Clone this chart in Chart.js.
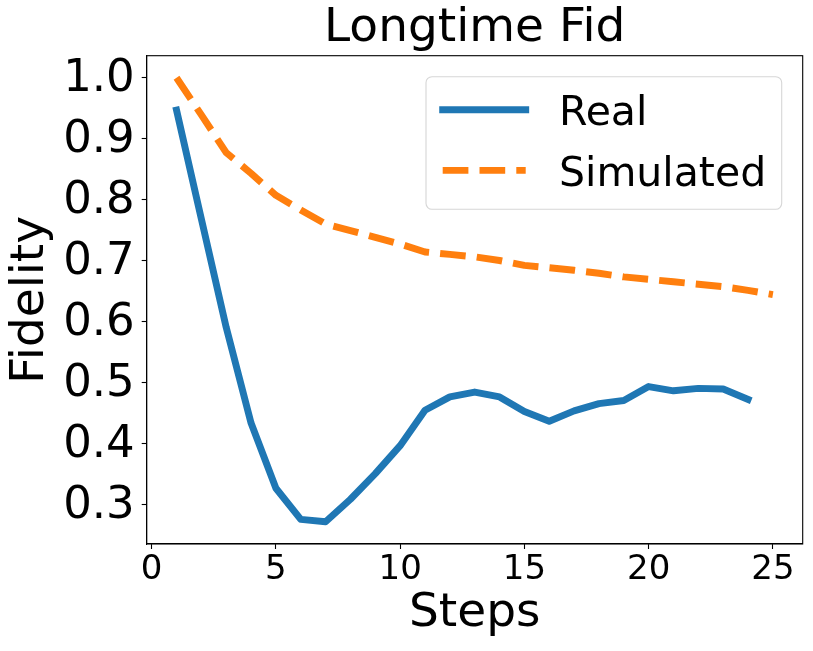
<!DOCTYPE html>
<html>
<head>
<meta charset="utf-8">
<script src="https://cdn.jsdelivr.net/npm/chart.js@4.4.0/dist/chart.umd.min.js"></script>
<style>
html,body{margin:0;padding:0;background:#fff;overflow:hidden}
canvas{display:block}
</style>
</head>
<body>
<canvas id="c" width="813" height="651"></canvas>
<script>
// ---- data ----
const realSteps = [1,2,3,4,5,6,7,8,9,10,11,12,13,14,15,16,17,18,19,20,21,22,23,24];
const realFidelity = [0.947,0.768,0.590,0.433,0.326,0.275,0.271,0.308,0.350,0.396,0.454,0.476,0.484,0.476,0.452,0.436,0.453,0.465,0.470,0.493,0.486,0.490,0.489,0.472];
const simSteps = [1,2,3,4,5,6,7,8,9,10,11,12,13,14,15,16,17,18,19,20,21,22,23,24,25];
const simFidelity = [1.000,0.939,0.877,0.843,0.807,0.783,0.760,0.749,0.738,0.727,0.714,0.710,0.706,0.700,0.692,0.688,0.684,0.679,0.673,0.669,0.665,0.661,0.657,0.651,0.644];
const xTickValues = [0,5,10,15,20,25];
const yTickValues = [0.3,0.4,0.5,0.6,0.7,0.8,0.9,1.0];
const seriesNames = ['Real','Simulated'];
const chartTitle = 'Longtime Fid';
const xAxisLabel = 'Steps';
const yAxisLabel = 'Fidelity';

const FONT = 'DejaVu Sans';

const framePlugin = {
  id: 'frameAndLegend',
  afterDatasetsDraw(chart) {
    const {ctx, chartArea: a} = chart;
    ctx.save();
    // axes frame (spines)
    ctx.strokeStyle = '#000';
    ctx.lineWidth = 1.1;
    ctx.setLineDash([]);
    ctx.strokeRect(a.left, a.top, a.right - a.left, a.bottom - a.top);
    // legend (upper right, inside axes)
    const w = 355.7, h = 132.6;
    const x0 = a.right - 21 - w, y0 = a.top + 21;
    ctx.beginPath();
    ctx.roundRect(x0, y0, w, h, 6);
    ctx.fillStyle = 'rgba(255,255,255,0.8)';
    ctx.fill();
    ctx.strokeStyle = 'rgba(204,204,204,0.8)';
    ctx.lineWidth = 1.1;
    ctx.stroke();
    chart.data.datasets.forEach((ds, i) => {
      const ly = y0 + 33 + i * 60.7;
      ctx.beginPath();
      ctx.setLineDash(ds.borderDash || []);
      ctx.lineCap = ds.borderCapStyle || 'butt';
      ctx.strokeStyle = ds.borderColor;
      ctx.lineWidth = ds.borderWidth;
      ctx.moveTo(x0 + 16.7, ly);
      ctx.lineTo(x0 + 99.7, ly);
      ctx.stroke();
      ctx.setLineDash([]);
      ctx.fillStyle = '#000';
      ctx.font = '41px "' + FONT + '"';
      ctx.textAlign = 'left';
      ctx.textBaseline = 'alphabetic';
      ctx.fillText(ds.label, x0 + 133, y0 + 48.3 + i * 60.7);
    });
    ctx.restore();
  }
};

new Chart(document.getElementById('c'), {
  type: 'line',
  data: {
    datasets: [
      {
        label: seriesNames[0],
        data: realSteps.map((s, i) => ({x: s, y: realFidelity[i]})),
        borderColor: '#1f77b4',
        backgroundColor: '#1f77b4',
        borderWidth: 6.94,
        borderCapStyle: 'square',
        borderJoinStyle: 'round',
        pointRadius: 0,
        fill: false,
        tension: 0
      },
      {
        label: seriesNames[1],
        data: simSteps.map((s, i) => ({x: s, y: simFidelity[i]})),
        borderColor: '#ff7f0e',
        backgroundColor: '#ff7f0e',
        borderWidth: 6.94,
        borderDash: [25.7, 11.1],
        borderCapStyle: 'butt',
        borderJoinStyle: 'round',
        pointRadius: 0,
        fill: false,
        tension: 0
      }
    ]
  },
  options: {
    responsive: false,
    animation: false,
    events: [],
    layout: {padding: {left: 0, right: 10.3, top: 0, bottom: 0}},
    plugins: {
      legend: {display: false},
      tooltip: {enabled: false},
      title: {
        display: true,
        text: chartTitle,
        color: '#000',
        fullSize: false,
        font: {family: FONT, size: 47, weight: 'normal', lineHeight: 1},
        padding: {top: 5.7, bottom: 3}
      }
    },
    scales: {
      x: {
        type: 'linear',
        position: 'bottom',
        min: -0.2,
        max: 26.2,
        afterBuildTicks: (s) => { s.ticks = xTickValues.map(v => ({value: v})); },
        afterFit: (s) => { s.height = 107; },
        ticks: {
          autoSkip: false,
          maxRotation: 0,
          color: '#000',
          padding: 0.5,
          font: {family: FONT, size: 34, lineHeight: 1.2},
          callback: (v) => String(v)
        },
        grid: {drawOnChartArea: false, drawTicks: true, tickLength: 5, tickColor: '#000', tickWidth: 1.1, color: '#000'},
        border: {display: true, color: '#000', width: 1.1},
        title: {
          display: true,
          text: xAxisLabel,
          color: '#000',
          font: {family: FONT, size: 47, lineHeight: 1},
          padding: {top: 0, bottom: 13.8}
        }
      },
      y: {
        type: 'linear',
        position: 'left',
        min: 0.2345,
        max: 1.0362,
        afterBuildTicks: (s) => { s.ticks = yTickValues.map(v => ({value: v})); },
        afterFit: (s) => { s.width = 146.7; },
        ticks: {
          autoSkip: false,
          color: '#000',
          padding: 7,
          labelOffset: 2,
          font: {family: FONT, size: 45, lineHeight: 1.2},
          callback: (v) => Number(v).toFixed(1)
        },
        grid: {drawOnChartArea: false, drawTicks: true, tickLength: 5, tickColor: '#000', tickWidth: 1.1, color: '#000'},
        border: {display: true, color: '#000', width: 1.1},
        title: {
          display: true,
          text: yAxisLabel,
          color: '#000',
          font: {family: FONT, size: 47, lineHeight: 1},
          padding: {top: 6.9, bottom: 0}
        }
      }
    }
  },
  plugins: [framePlugin]
});
</script>
</body>
</html>
